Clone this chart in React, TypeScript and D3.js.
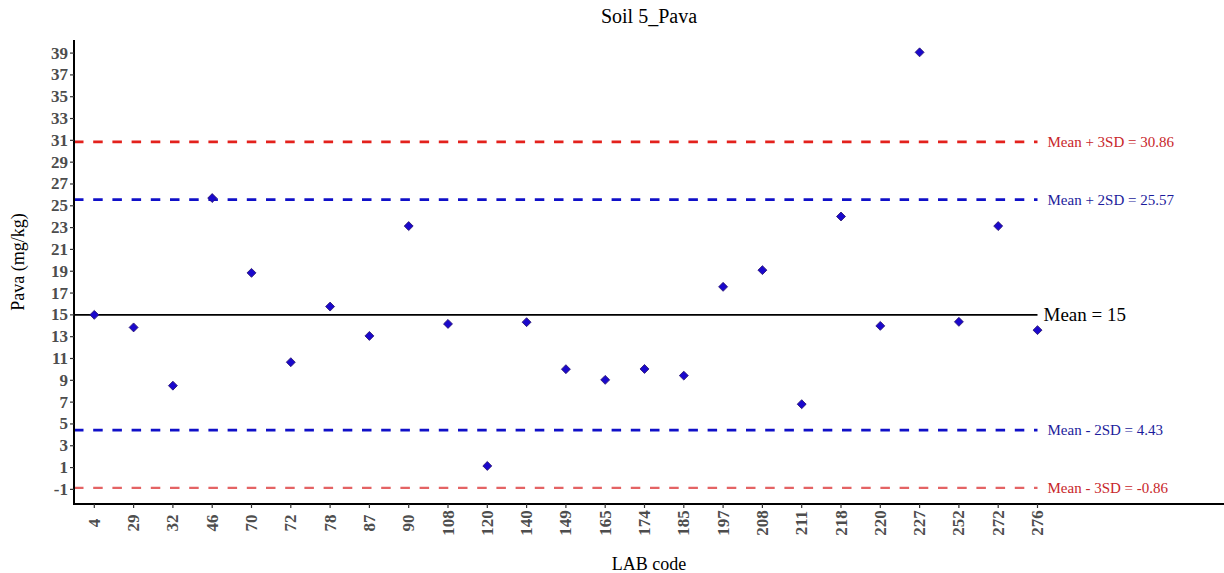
import React from "react";
import * as d3 from "d3";

// LAB codes and reported Pava values (mg/kg)
const labCodes: string[] = [
  "4", "29", "32", "46", "70", "72", "78", "87", "90", "108", "120", "140",
  "149", "165", "174", "185", "197", "208", "211", "218", "220", "227", "252", "272", "276",
];
const pavaValues: number[] = [
  15.0, 13.85, 8.51, 25.71, 18.85, 10.66, 15.76, 13.07, 23.14, 14.17, 1.15, 14.33,
  10.02, 9.04, 10.04, 9.43, 17.57, 19.1, 6.81, 24.02, 13.99, 39.07, 14.36, 23.14, 13.6,
];

// Reference lines
const meanValue = 15;
const limitValues: number[] = [30.86, 25.57, 4.43, -0.86];
const limitLabels: string[] = [
  "Mean + 3SD = 30.86",
  "Mean + 2SD = 25.57",
  "Mean - 2SD = 4.43",
  "Mean - 3SD = -0.86",
];
const limitKinds: string[] = ["3SD", "2SD", "2SD", "3SD"];

// Y tick labels
const yTicks: number[] = d3.range(-1, 40, 2);

const W = 1224;
const H = 573;
const axisX = 74;
const axisY = 504;
const plotTop = 40;
const serif = "'Liberation Serif', 'Times New Roman', serif";

export default function App() {
  const x = d3.scalePoint<string>().domain(labCodes).range([94.3, 1037.5]);
  const y = d3.scaleLinear().domain([-2.34, 40.2]).range([axisY, plotTop]);
  const lineEnd = x(labCodes[labCodes.length - 1]) as number;
  const diamond = d3.symbol().type(d3.symbolSquare).size(40)();

  const styleFor = (kind: string, i: number) => {
    if (kind === "3SD") {
      return i === 0
        ? { stroke: "#e3211c", width: 2.8, text: "#c8262a", opacity: 1 }
        : { stroke: "#e0484a", width: 2.2, text: "#c8262a", opacity: 0.85 };
    }
    return { stroke: "#1010c8", width: 2.8, text: "#1c1c9c", opacity: 1 };
  };

  return (
    <svg
      width={W}
      height={H}
      style={{ position: "absolute", left: 0, top: 0, background: "#fff" }}
      fontFamily={serif}
    >
      {/* Title */}
      <text x={649} y={23} textAnchor="middle" fontSize={20} fill="#000">
        Soil 5_Pava
      </text>

      {/* Limit lines */}
      {limitValues.map((v, i) => {
        const s = styleFor(limitKinds[i], i);
        return (
          <g key={`lim-${i}`}>
            <line
              x1={axisX}
              x2={lineEnd}
              y1={y(v)}
              y2={y(v)}
              stroke={s.stroke}
              strokeWidth={s.width}
              strokeDasharray="9.5,9.7"
              opacity={s.opacity}
            />
            <text
              x={lineEnd + 10}
              y={y(v)}
              dominantBaseline="central"
              fontSize={15}
              fill={s.text}
            >
              {limitLabels[i]}
            </text>
          </g>
        );
      })}

      {/* Mean line */}
      <line x1={axisX} x2={lineEnd} y1={y(meanValue)} y2={y(meanValue)} stroke="#000" strokeWidth={1.8} />
      <text x={lineEnd + 6} y={y(meanValue)} dominantBaseline="central" fontSize={19} fill="#000">
        {`Mean = ${meanValue}`}
      </text>

      {/* Points */}
      {labCodes.map((c, i) => (
        <path
          key={`pt-${c}`}
          d={diamond as string}
          transform={`translate(${x(c)},${y(pavaValues[i])}) rotate(45)`}
          fill="#1a08cc"
          stroke="#2a1670"
          strokeWidth={0.8}
        />
      ))}

      {/* Y axis */}
      <line x1={axisX} x2={axisX} y1={plotTop} y2={axisY + 1} stroke="#000" strokeWidth={2} />
      {yTicks.map((t) => (
        <g key={`yt-${t}`}>
          <line x1={axisX - 4} x2={axisX} y1={y(t)} y2={y(t)} stroke="#333" strokeWidth={1.2} />
          <text
            x={axisX - 6}
            y={y(t)}
            textAnchor="end"
            dominantBaseline="central"
            fontSize={17}
            fontWeight="bold"
            fill="#4d4d4d"
          >
            {t}
          </text>
        </g>
      ))}

      {/* X axis */}
      <line x1={axisX - 1} x2={W} y1={axisY} y2={axisY} stroke="#000" strokeWidth={2} />
      {labCodes.map((c) => (
        <g key={`xt-${c}`}>
          <line x1={x(c)} x2={x(c)} y1={axisY} y2={axisY + 4} stroke="#333" strokeWidth={1.2} />
          <text
            transform={`translate(${x(c)},${523}) rotate(-90)`}
            textAnchor="middle"
            dominantBaseline="central"
            fontSize={17}
            fontWeight="bold"
            fill="#4d4d4d"
          >
            {c}
          </text>
        </g>
      ))}

      {/* Axis titles */}
      <text x={649} y={570} textAnchor="middle" fontSize={18} fill="#000">
        LAB code
      </text>
      <text
        transform={`translate(${18},${262}) rotate(-90)`}
        textAnchor="middle"
        dominantBaseline="central"
        fontSize={18}
        fill="#000"
      >
        Pava (mg/kg)
      </text>
    </svg>
  );
}
